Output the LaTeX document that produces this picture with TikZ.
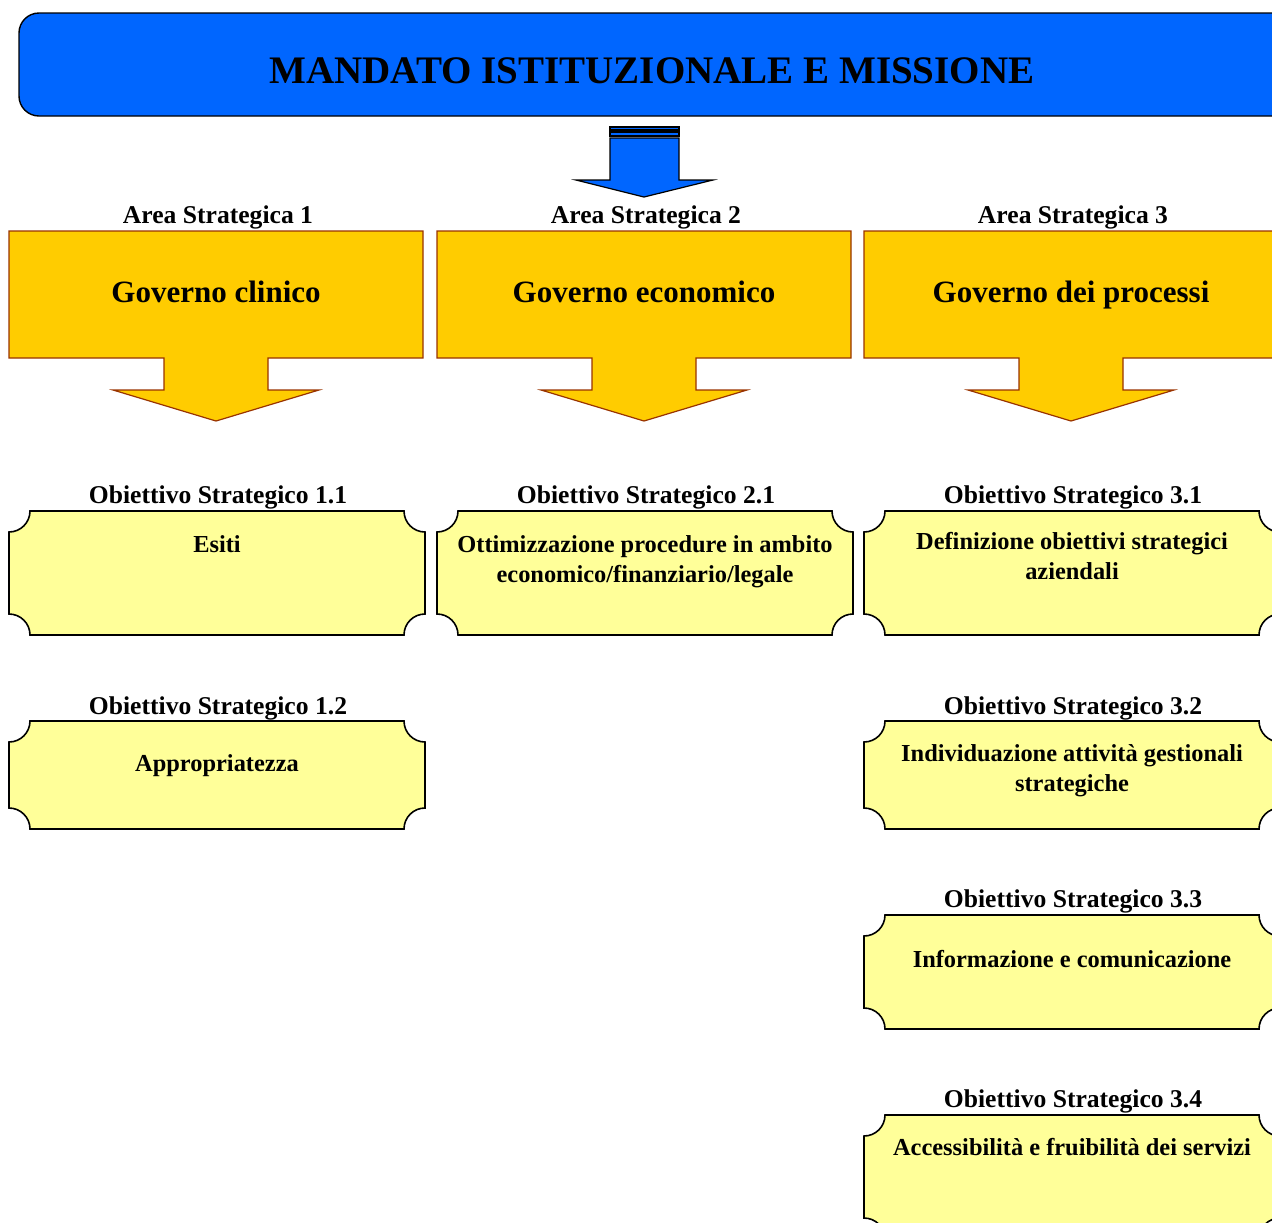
\documentclass[tikz,border=0pt]{standalone}
\usepackage{fontspec}
\setmainfont{Liberation Serif}
\usepackage{xcolor}
\usetikzlibrary{positioning}
\definecolor{missionblue}{HTML}{0066FF}
\definecolor{areagold}{HTML}{FFCC00}
\definecolor{areaborder}{HTML}{993300}
\definecolor{plaqueyellow}{HTML}{FFFF99}
\tikzset{
  titlebox/.style={draw=black,fill=missionblue,rounded corners=10pt,line width=0.7pt,
    minimum width=645pt,minimum height=51.5pt},
  titletext/.style={anchor=base,font=\bfseries\fontsize{19.5}{23}\selectfont},
  blueshape/.style={draw=black,fill=missionblue,line width=0.6pt},
  areashape/.style={draw=areaborder,fill=areagold,line width=0.6pt},
  areatitle/.style={anchor=base,font=\bfseries\fontsize{15.5}{18}\selectfont},
  headlabel/.style={anchor=base,font=\bfseries\fontsize{12.8}{15}\selectfont},
  plaqueshape/.style={draw=black,fill=plaqueyellow,line width=0.8pt},
  objtext/.style={anchor=base,font=\bfseries\fontsize{12.2}{14.7}\selectfont,align=center},
  pics/areacallout/.style={code={
    \draw[areashape] (0,0) -- (414,0) -- (414,127) -- (259,127) -- (259,159) -- (310,159)
      -- (207,190) -- (104,159) -- (155,159) -- (155,127) -- (0,127) -- cycle;}},
  pics/objplaque/.style={code={
    \draw[plaqueshape] (21,0) -- (395,0) arc[start angle=180,end angle=90,radius=21]
      -- (416,#1-21) arc[start angle=270,end angle=180,radius=21]
      -- (21,#1) arc[start angle=0,end angle=-90,radius=21]
      -- (0,21) arc[start angle=90,end angle=0,radius=21] -- cycle;}}
}
\begin{document}
\begin{tikzpicture}[x=0.5pt,y=-0.5pt]
  \useasboundingbox (0,0) rectangle (1272,1222);
  \clip (0,0) rectangle (1272,1222);
  % mission
  \node[titlebox] (mission) at (664,64.5) {};
  \node[titletext] (missiontext) at (652,83) {MANDATO ISTITUZIONALE E MISSIONE};
  \draw[blueshape] (610,127) rectangle (679,130);
  \draw[blueshape] (610,132) rectangle (679,136);
  \draw[blueshape] (610,138) -- (679,138) -- (679,180) -- (713,180) -- (644,197)
    -- (576,180) -- (610,180) -- cycle;
  % strategic areas
  \pic at (9,231) {areacallout};
  \pic at (437,231) {areacallout};
  \pic at (864,231) {areacallout};
  \node[headlabel] (area1) at (218,223) {Area Strategica 1};
  \node[headlabel] (area2) at (646,223) {Area Strategica 2};
  \node[headlabel] (area3) at (1073,223) {Area Strategica 3};
  \node[areatitle] (gov1) at (216,302) {Governo clinico};
  \node[areatitle] (gov2) at (644,302) {Governo economico};
  \node[areatitle] (gov3) at (1071,302) {Governo dei processi};
  % objectives
  \pic at (9,511) {objplaque=124};
  \pic at (437,511) {objplaque=124};
  \pic at (864,511) {objplaque=124};
  \pic at (9,721) {objplaque=108};
  \pic at (864,721) {objplaque=108};
  \pic at (864,915) {objplaque=114};
  \pic at (864,1115) {objplaque=124};
  \node[headlabel] (lab11) at (218,503) {Obiettivo Strategico 1.1};
  \node[headlabel] (lab21) at (646,503) {Obiettivo Strategico 2.1};
  \node[headlabel] (lab31) at (1073,503) {Obiettivo Strategico 3.1};
  \node[headlabel] (lab12) at (218,714) {Obiettivo Strategico 1.2};
  \node[headlabel] (lab32) at (1073,714) {Obiettivo Strategico 3.2};
  \node[headlabel] (lab33) at (1073,907) {Obiettivo Strategico 3.3};
  \node[headlabel] (lab34) at (1073,1107) {Obiettivo Strategico 3.4};
  \node[objtext] (obj11) at (217,552) {Esiti};
  \node[objtext] (obj21) at (645,582) {Ottimizzazione procedure in ambito\\economico/finanziario/legale};
  \node[objtext] (obj31) at (1072,579) {Definizione obiettivi strategici\\aziendali};
  \node[objtext] (obj12) at (217,771) {Appropriatezza};
  \node[objtext] (obj32) at (1072,791) {Individuazione attività gestionali\\strategiche};
  \node[objtext] (obj33) at (1072,967) {Informazione e comunicazione};
  \node[objtext] (obj34) at (1072,1155) {Accessibilità e fruibilità dei servizi};
\end{tikzpicture}
\end{document}
